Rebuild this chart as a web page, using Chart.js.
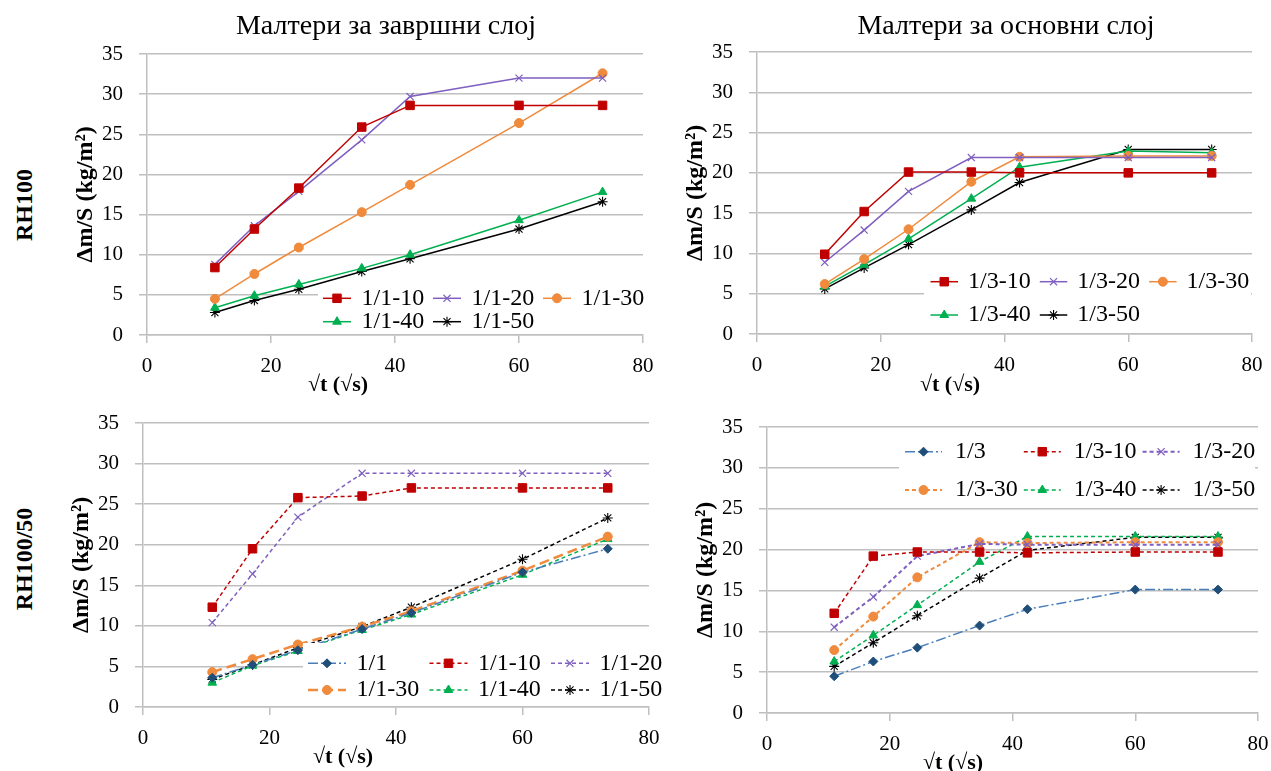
<!DOCTYPE html>
<html>
<head>
<meta charset="utf-8">
<script src="https://cdn.jsdelivr.net/npm/chart.js@4.4.1/dist/chart.umd.min.js"></script>
<style>
  body { margin: 0; background: #fff; width: 1271px; height: 771px; overflow: hidden; position: relative; font-family: "Liberation Serif", serif; }
  canvas { position: absolute; }
  .lbl { position: absolute; transform: translate(-50%, -50%); white-space: nowrap; color: #000; }
  .title { font-size: 28px; }
  .xt { font-size: 22px; font-weight: bold; }
  .row { font-size: 24px; font-weight: bold; transform: translate(-50%, -50%) rotate(-90deg); }
</style>
</head>
<body>
<canvas id="tl"></canvas>
<canvas id="tr"></canvas>
<canvas id="bl"></canvas>
<canvas id="br"></canvas>

<div class="lbl title" style="left:386px; top:25px;">Малтери за завршни слој</div>
<div class="lbl title" style="left:1006px; top:25px;">Малтери за основни слој</div>
<div class="lbl row" style="left:24px; top:205px;">RH100</div>
<div class="lbl row" style="left:24px; top:559px;">RH100/50</div>
<div class="lbl xt" style="left:338px; top:384px;">√t (√s)</div>
<div class="lbl xt" style="left:950px; top:384px;">√t (√s)</div>
<div class="lbl xt" style="left:343px; top:756px;">√t (√s)</div>
<div class="lbl xt" style="left:953px; top:762px;">√t (√s)</div>

<script>
// x positions: square root of time (s)
const sqrtT = [10.95, 17.32, 24.49, 34.64, 42.43, 60.0, 73.48];

// RH100 - finishing coat (1/1)
const tl_1_1_10 = [8.4, 13.2, 18.3, 25.9, 28.6, 28.6, 28.6];
const tl_1_1_20 = [8.8, 13.6, 17.9, 24.3, 29.7, 32.0, 32.0];
const tl_1_1_30 = [4.5, 7.6, 10.9, 15.3, 18.7, 26.4, 32.6];
const tl_1_1_40 = [3.4, 4.9, 6.3, 8.3, 10.0, 14.3, 17.8];
const tl_1_1_50 = [2.8, 4.3, 5.7, 7.9, 9.5, 13.2, 16.6];

// RH100 - base coat (1/3)
const tr_1_3_10 = [9.9, 15.2, 20.1, 20.1, 20.0, 20.0, 20.0];
const tr_1_3_20 = [8.9, 12.9, 17.7, 21.9, 21.9, 21.9, 21.9];
const tr_1_3_30 = [6.2, 9.3, 13.0, 18.9, 22.0, 22.1, 22.1];
const tr_1_3_40 = [5.9, 8.6, 11.8, 16.8, 20.7, 22.7, 22.5];
const tr_1_3_50 = [5.6, 8.2, 11.1, 15.4, 18.8, 22.9, 22.9];

// RH100/50 - finishing coat
const bl_1_1    = [3.6, 5.2, 7.0, 9.6, 11.6, 16.6, 19.5];
const bl_1_1_10 = [12.3, 19.5, 25.8, 26.0, 27.0, 27.0, 27.0];
const bl_1_1_20 = [10.4, 16.4, 23.4, 28.8, 28.8, 28.8, 28.8];
const bl_1_1_30 = [4.3, 5.9, 7.7, 9.9, 11.8, 16.8, 21.0];
const bl_1_1_40 = [3.0, 5.1, 6.9, 9.5, 11.4, 16.3, 20.7];
const bl_1_1_50 = [3.4, 5.2, 7.3, 9.9, 12.3, 18.2, 23.3];

// RH100/50 - base coat
const br_1_3    = [4.5, 6.3, 8.0, 10.7, 12.7, 15.1, 15.1];
const br_1_3_10 = [12.2, 19.2, 19.7, 19.7, 19.6, 19.7, 19.7];
const br_1_3_20 = [10.5, 14.2, 19.2, 20.7, 20.6, 20.6, 20.6];
const br_1_3_30 = [7.7, 11.8, 16.6, 20.9, 20.8, 20.9, 20.9];
const br_1_3_40 = [6.3, 9.5, 13.2, 18.5, 21.6, 21.6, 21.6];
const br_1_3_50 = [5.7, 8.6, 11.9, 16.5, 19.9, 21.5, 21.5];

const FONT = '"Liberation Serif", serif';
const GRID = '#BFBFBF';

const STY = {
  base: { color: '#4A7EBB', pointColor: '#1F4E79', point: 'rectRot', r: 4.5, pw: 1 },
  s10:  { color: '#C00000', point: 'rect', r: 6, pw: 1 },
  s20:  { color: '#7F5FBF', point: 'crossRot', r: 5, pw: 1.2 },
  s30:  { color: '#F08A3C', point: 'circle', r: 4.5, pw: 1 },
  s40:  { color: '#00B050', point: 'triangle', r: 5, pw: 1 },
  s50:  { color: '#000000', point: 'star', r: 5, pw: 1.1 }
};

function ds(label, ys, st, dash, width) {
  const pc = st.pointColor || st.color;
  return {
    label: label,
    data: ys.map((y, i) => ({ x: sqrtT[i], y: y })),
    borderColor: st.color,
    backgroundColor: pc,
    pointBackgroundColor: pc,
    pointBorderColor: pc,
    pointStyle: st.point,
    pointRadius: st.r,
    pointBorderWidth: st.pw,
    borderWidth: width || 1.5,
    borderDash: dash || [],
    tension: 0,
    fill: false
  };
}

// legend drawn inside the plot, on a white box
const boxLegend = {
  id: 'boxLegend',
  afterDraw(chart, args, o) {
    if (!o || !o.cols) return;
    const ctx = chart.ctx, a = chart.chartArea;
    ctx.save();
    ctx.fillStyle = '#fff';
    ctx.fillRect(a.left + o.box[0], a.top + o.box[1], o.box[2] - o.box[0], o.box[3] - o.box[1]);
    ctx.font = '24px ' + FONT;
    ctx.textBaseline = 'middle';
    ctx.textAlign = 'left';
    chart.data.datasets.forEach((d, i) => {
      const col = i % o.cols, row = Math.floor(i / o.cols);
      const x = a.left + o.x0 + col * o.colW, y = a.top + o.y0 + row * o.rowH;
      ctx.strokeStyle = d.borderColor;
      ctx.lineWidth = d.borderWidth;
      ctx.setLineDash(d.borderDash || []);
      ctx.beginPath(); ctx.moveTo(x, y); ctx.lineTo(x + o.lineLen, y); ctx.stroke();
      ctx.setLineDash([]);
      ctx.fillStyle = d.pointBackgroundColor;
      ctx.strokeStyle = d.pointBorderColor;
      ctx.lineWidth = d.pointBorderWidth;
      Chart.helpers.drawPoint(ctx, { pointStyle: d.pointStyle, radius: d.pointRadius, rotation: 0, borderWidth: d.pointBorderWidth }, x + o.lineLen / 2, y);
      ctx.fillStyle = '#000';
      ctx.fillText(d.label, x + o.textDx, y);
    });
    ctx.restore();
  }
};

function makeChart(id, area, datasets, legend) {
  // PT must exceed half a tick label plus tick padding so the plot top is not pushed down
  const Y_W = 80, PT = 32, PR = 25, X_H = 60;
  const cv = document.getElementById(id);
  const left = area.l - Y_W, top = area.t - PT;
  const w = area.r + PR - left, h = area.b + X_H - top;
  cv.width = w; cv.height = h;
  cv.style.left = left + 'px'; cv.style.top = top + 'px';
  cv.style.width = w + 'px'; cv.style.height = h + 'px';
  return new Chart(cv, {
    type: 'line',
    data: { datasets: datasets },
    options: {
      responsive: false,
      animation: false,
      layout: { padding: { left: 0, top: PT, right: PR, bottom: 0 } },
      plugins: { legend: { display: false }, tooltip: { enabled: false }, boxLegend: legend },
      scales: {
        x: {
          type: 'linear', min: 0, max: 80,
          ticks: { stepSize: 20, padding: 11, color: '#000', maxRotation: 0, font: { family: FONT, size: 21 } },
          grid: { drawOnChartArea: false, drawTicks: true, tickLength: 8, color: GRID, lineWidth: 1.5 },
          border: { color: GRID, width: 1.5 },
          afterFit(s) { s.height = X_H; }
        },
        y: {
          min: 0, max: 35,
          ticks: { stepSize: 5, padding: 16, color: '#000', font: { family: FONT, size: 21 } },
          grid: { color: GRID, lineWidth: 1.5, tickLength: 8 },
          border: { color: GRID, width: 1.5 },
          title: { display: true, text: 'Δm/S (kg/m²)', color: '#000', padding: { top: 4, bottom: 0 }, font: { family: FONT, size: 24, weight: 'bold' } },
          afterFit(s) { s.width = Y_W; }
        }
      }
    },
    plugins: [boxLegend]
  });
}

const SD = [4, 3];

makeChart('tl', { l: 147, t: 54, r: 643, b: 335 }, [
  ds('1/1-10', tl_1_1_10, STY.s10),
  ds('1/1-20', tl_1_1_20, STY.s20),
  ds('1/1-30', tl_1_1_30, STY.s30),
  ds('1/1-40', tl_1_1_40, STY.s40),
  ds('1/1-50', tl_1_1_50, STY.s50)
], { cols: 3, box: [171, 231, 498, 278], x0: 176, y0: 244.3, colW: 110, rowH: 23.4, lineLen: 28, textDx: 38.5 });

makeChart('tr', { l: 757, t: 52, r: 1252, b: 334 }, [
  ds('1/3-10', tr_1_3_10, STY.s10),
  ds('1/3-20', tr_1_3_20, STY.s20),
  ds('1/3-30', tr_1_3_30, STY.s30),
  ds('1/3-40', tr_1_3_40, STY.s40),
  ds('1/3-50', tr_1_3_50, STY.s50)
], { cols: 3, box: [167, 210, 494, 278], x0: 173.5, y0: 229.7, colW: 109.3, rowH: 33.3, lineLen: 27.5, textDx: 37.5 });

makeChart('bl', { l: 143, t: 423, r: 649, b: 707 }, [
  ds('1/1', bl_1_1, STY.base, [10, 3, 2, 3]),
  ds('1/1-10', bl_1_1_10, STY.s10, SD),
  ds('1/1-20', bl_1_1_20, STY.s20, SD),
  ds('1/1-30', bl_1_1_30, STY.s30, [10, 5], 2.5),
  ds('1/1-40', bl_1_1_40, STY.s40, SD),
  ds('1/1-50', bl_1_1_50, STY.s50, SD)
], { cols: 3, box: [160, 220, 519, 281], x0: 165, y0: 240.3, colW: 121.5, rowH: 26.7, lineLen: 38, textDx: 48.5 });

makeChart('br', { l: 767, t: 427, r: 1258, b: 713 }, [
  ds('1/3', br_1_3, STY.base, [10, 3, 2, 3]),
  ds('1/3-10', br_1_3_10, STY.s10, SD),
  ds('1/3-20', br_1_3_20, STY.s20, SD, 2),
  ds('1/3-30', br_1_3_30, STY.s30, SD, 2),
  ds('1/3-40', br_1_3_40, STY.s40, SD),
  ds('1/3-50', br_1_3_50, STY.s50, SD)
], { cols: 3, box: [132, 3, 488, 79], x0: 138, y0: 24.7, colW: 118.8, rowH: 38.3, lineLen: 37, textDx: 50 });
</script>
</body>
</html>
